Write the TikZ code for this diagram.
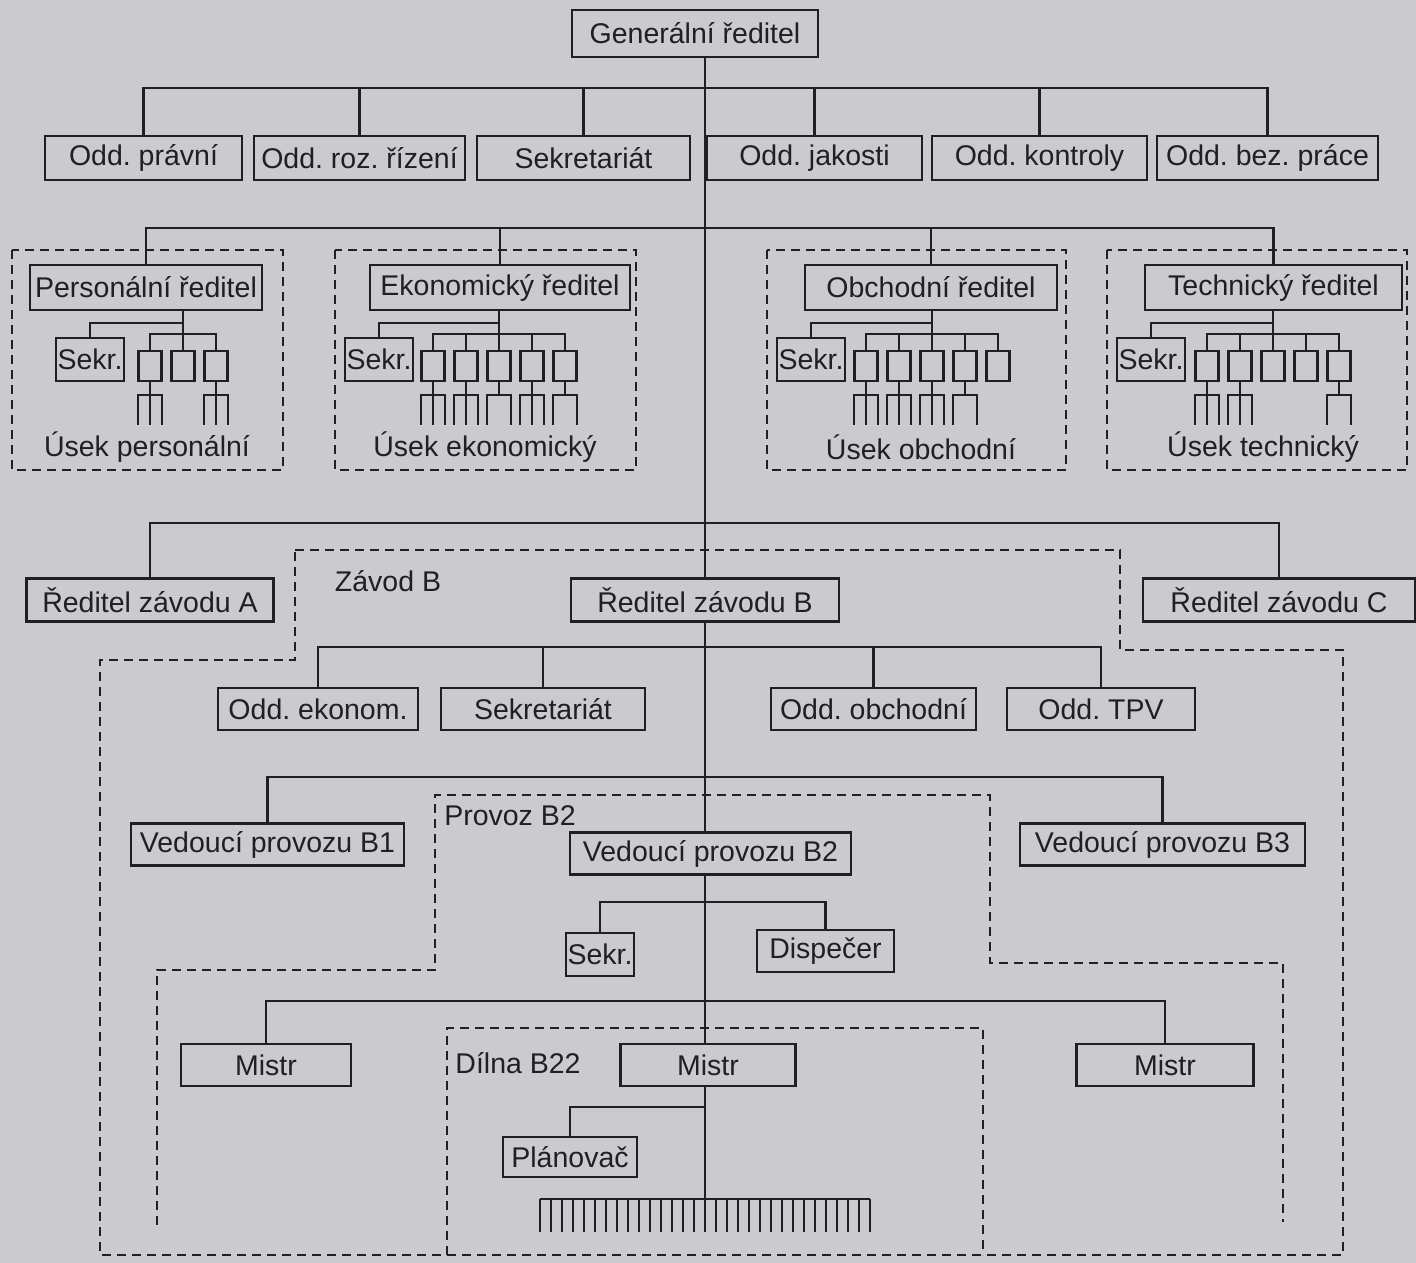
\documentclass[tikz,border=0pt]{standalone}
\usepackage{fontspec}
\setmainfont{Liberation Sans}
\frenchspacing
\definecolor{ink}{RGB}{30,32,38}
\definecolor{paper}{RGB}{202,202,207}
% a small unit with a fork of three or two subordinate lines below it
\newcommand\forkthree[1]{%
  \draw[ln] (#1.south) -- (#1.south |- yend);
  \draw[ln] (#1.south |- yend) ++(-12,0) -- ++(0,-30) -- ++(24,0) -- ++(0,30);
}
\newcommand\forktwo[1]{%
  \draw[ln] (#1.south) -- (#1.south |- yfk);
  \draw[ln] (#1.south |- yend) ++(-12,0) -- ++(0,-30) -- ++(24,0) -- ++(0,30);
}
\begin{document}
\begin{tikzpicture}[x=1pt,y=-1pt,
  ln/.style={draw=ink, line width=2.3pt},
  bx/.style={draw=ink, line width=2.3pt, inner sep=0pt, text=ink,
    font=\fontsize{28.5}{32}\selectfont, minimum height=42},
  sm/.style={draw=ink, line width=2.3pt, inner sep=0pt, minimum width=23, minimum height=30},
  lbl/.style={text=ink, font=\fontsize{28.5}{32}\selectfont, inner sep=0pt},
  dsh/.style={draw=ink, line width=2pt, dash pattern=on 9pt off 6pt},
]
\fill[paper] (0,0) rectangle (1416,1263);
\useasboundingbox (0,0) rectangle (1416,1263);

% trunk line and levels of the horizontal buses
\coordinate (tk) at (705,0);
\coordinate (bA) at (0,88);
\coordinate (bB) at (0,228);
\coordinate (bC) at (0,523);
\coordinate (bD) at (0,647);
\coordinate (bE) at (0,777);
\coordinate (bF) at (0,902);
\coordinate (bG) at (0,1001);
\coordinate (bH) at (0,1107);
\coordinate (ysb) at (0,323);
\coordinate (ysm) at (0,334);
\coordinate (yfk) at (0,395);
\coordinate (yend) at (0,425);

% ---------------- top management ----------------
\node[bx, minimum width=246, minimum height=47] (gen) at (695,33.5) {Generální ředitel};
\node[bx, minimum width=197, minimum height=44] (pr)  at (143.5,158) {Odd. právní};
\node[bx, minimum width=211, minimum height=44] (roz) at (359.5,158) {Odd. roz. řízení};
\node[bx, minimum width=213, minimum height=44] (sek) at (583.5,158) {Sekretariát};
\node[bx, minimum width=215, minimum height=44] (jak) at (814.5,158) {Odd. jakosti};
\node[bx, minimum width=215, minimum height=44] (kon) at (1039.5,158) {Odd. kontroly};
\node[bx, minimum width=221, minimum height=44] (bez) at (1267.5,158) {Odd. bez. práce};

\draw[ln] (pr.north) -- (pr.north |- bA) -- (bez.north |- bA) -- (bez.north);
\foreach \n in {roz,sek,jak,kon} \draw[ln] (\n.north) -- (\n.north |- bA);

% ---------------- directors ----------------
\node[bx, minimum width=232, minimum height=45] (pdir) at (146,287.5) {Personální ředitel};
\node[bx, minimum width=260, minimum height=45] (edir) at (500,287.5) {Ekonomický ředitel};
\node[bx, minimum width=252, minimum height=45] (odir) at (931,287.5) {Obchodní ředitel};
\node[bx, minimum width=257, minimum height=45] (tdir) at (1273.5,287.5) {Technický ředitel};

\draw[ln] (pdir.north) -- (pdir.north |- bB) -- (tdir.north |- bB) -- (tdir.north);
\foreach \n in {edir,odir} \draw[ln] (\n.north) -- (\n.north |- bB);

% personnel section
\node[bx, minimum width=68, minimum height=43] (psk) at (90,359.5) {Sekr.};
\foreach \i/\x in {1/150,2/183,3/216} \node[sm] (p\i) at (\x,366) {};
\draw[ln] (pdir.south -| p2.north) -- (p2.north);
\draw[ln] (psk.north) -- (psk.north |- ysb) -- (p2.north |- ysb);
\draw[ln] (p1.north) -- (p1.north |- ysm) -- (p3.north |- ysm) -- (p3.north);
\draw[ln] (p2.north |- ysm) -- (p2.north);
\forkthree{p1}
\forkthree{p3}
\node[lbl] at (147,447) {Úsek personální};
\draw[dsh] (12,250) rectangle (283,470);

% economic section
\node[bx, minimum width=68, minimum height=43] (esk) at (379,359.5) {Sekr.};
\foreach \i/\x in {1/433,2/466,3/499,4/532,5/565} \node[sm] (e\i) at (\x,366) {};
\draw[ln] (edir.south -| e3.north) -- (e3.north);
\draw[ln] (esk.north) -- (esk.north |- ysb) -- (e3.north |- ysb);
\draw[ln] (e1.north) -- (e1.north |- ysm) -- (e5.north |- ysm) -- (e5.north);
\foreach \i in {2,4} \draw[ln] (e\i.north) -- (e\i.north |- ysm);
\forkthree{e1}
\forkthree{e2}
\forktwo{e3}
\forkthree{e4}
\forktwo{e5}
\node[lbl] at (485,447) {Úsek ekonomický};
\draw[dsh] (335,250) rectangle (636,470);

% sales section
\node[bx, minimum width=68, minimum height=43] (osk) at (811,359.5) {Sekr.};
\foreach \i/\x in {1/866,2/899,3/932,4/965,5/998} \node[sm] (o\i) at (\x,366) {};
\draw[ln] (odir.south -| o3.north) -- (o3.north);
\draw[ln] (osk.north) -- (osk.north |- ysb) -- (o3.north |- ysb);
\draw[ln] (o1.north) -- (o1.north |- ysm) -- (o5.north |- ysm) -- (o5.north);
\foreach \i in {2,4} \draw[ln] (o\i.north) -- (o\i.north |- ysm);
\forkthree{o1}
\forkthree{o2}
\forkthree{o3}
\forktwo{o4}
\node[lbl] at (921,447) {Úsek obchodní};
\draw[dsh] (767,250) rectangle (1066,470);

% technical section
\node[bx, minimum width=68, minimum height=43] (tsk) at (1151,359.5) {Sekr.};
\foreach \i/\x in {1/1207,2/1240,3/1273,4/1306,5/1339} \node[sm] (t\i) at (\x,366) {};
\draw[ln] (tdir.south -| t3.north) -- (t3.north);
\draw[ln] (tsk.north) -- (tsk.north |- ysb) -- (t3.north |- ysb);
\draw[ln] (t1.north) -- (t1.north |- ysm) -- (t5.north |- ysm) -- (t5.north);
\foreach \i in {2,4} \draw[ln] (t\i.north) -- (t\i.north |- ysm);
\forkthree{t1}
\forkthree{t2}
\forktwo{t5}
\node[lbl] at (1263,447) {Úsek technický};
\draw[dsh] (1107,250) rectangle (1407,470);

% ---------------- plants ----------------
\node[bx, minimum width=247, minimum height=43] (za) at (150,600) {Ředitel závodu A};
\node[bx, minimum width=268, minimum height=43] (zb) at (705,600) {Ředitel závodu B};
\node[bx, minimum width=272, minimum height=43] (zc) at (1279,600) {Ředitel závodu C};
\draw[ln] (za.north) -- (za.north |- bC) -- (zc.north |- bC) -- (zc.north);
\draw[ln] (gen.south -| tk) -- (zb.north);

\node[lbl] at (388,581) {Závod B};
\draw[dsh] (295,550) -- (1120,550) -- (1120,650) -- (1343,650) -- (1343,1255)
  -- (100,1255) -- (100,660) -- (295,660) -- cycle;

\node[bx, minimum width=200] (oek)  at (318,709)    {Odd. ekonom.};
\node[bx, minimum width=204] (sek2) at (543,709)    {Sekretariát};
\node[bx, minimum width=205] (oob)  at (873.5,709)  {Odd. obchodní};
\node[bx, minimum width=188] (tpv)  at (1101,709)   {Odd. TPV};
\draw[ln] (oek.north) -- (oek.north |- bD) -- (tpv.north |- bD) -- (tpv.north);
\foreach \n in {sek2,oob} \draw[ln] (\n.north) -- (\n.north |- bD);

% ---------------- operations ----------------
\node[bx, minimum width=273] (vb1) at (267.5,844.5) {Vedoucí provozu B1};
\node[bx, minimum width=281] (vb2) at (710.5,853.5) {Vedoucí provozu B2};
\node[bx, minimum width=285] (vb3) at (1162.5,844.5) {Vedoucí provozu B3};
\draw[ln] (vb1.north) -- (vb1.north |- bE) -- (vb3.north |- bE) -- (vb3.north);
\draw[ln] (zb.south) -- (zb.south |- vb2.north);

\node[lbl] at (510,816) {Provoz B2};
\draw[dsh] (157,1225) -- (157,970) -- (435,970) -- (435,795) -- (990,795)
  -- (990,963) -- (1283,963) -- (1283,1222);

\node[bx, minimum width=68, minimum height=43] (sk3) at (600,954.5) {Sekr.};
\node[bx, minimum width=137] (dis) at (825.5,951) {Dispečer};
\draw[ln] (sk3.north) -- (sk3.north |- bF) -- (dis.north |- bF) -- (dis.north);

% ---------------- workshops ----------------
\node[bx, minimum width=170] (m1) at (266,1065) {Mistr};
\node[bx, minimum width=175] (m2) at (708,1065) {Mistr};
\node[bx, minimum width=177] (m3) at (1165,1065) {Mistr};
\draw[ln] (m1.north) -- (m1.north |- bG) -- (m3.north |- bG) -- (m3.north);
\draw[ln] (vb2.south -| tk) -- (m2.north -| tk);

\node[lbl] at (518,1063) {Dílna B22};
\draw[dsh] (447,1255) -- (447,1028) -- (983,1028) -- (983,1255);

\node[bx, minimum width=134, minimum height=40] (plan) at (570,1157) {Plánovač};
\coordinate (cl) at (540,1199);
\coordinate (cr) at (870,1199);
\draw[ln] (m2.south -| tk) -- (tk |- cl);
\draw[ln] (plan.north) -- (plan.north |- bH) -- (tk |- bH);
\draw[ln] (cl) -- (cr);
\foreach \i in {0,...,30} \draw[ln] ([xshift=\i*11]cl) -- ++(0,33);
\end{tikzpicture}
\end{document}
